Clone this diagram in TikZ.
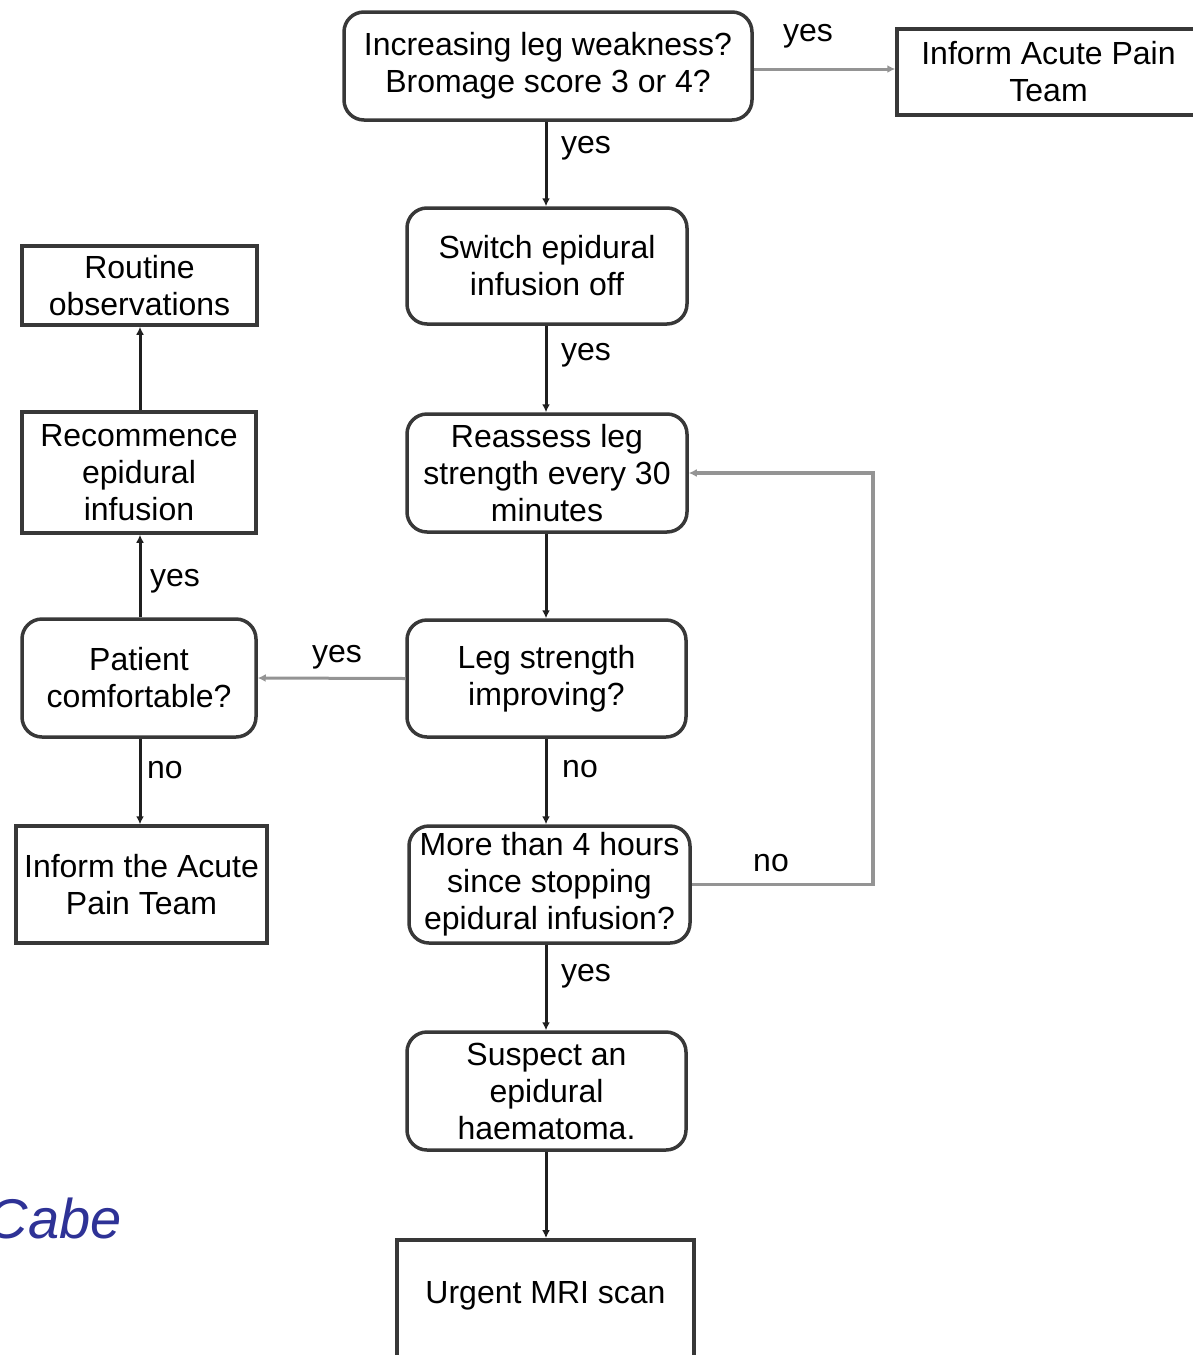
\documentclass[tikz,border=0pt]{standalone}
\usepackage{fontspec}
\setmainfont{Liberation Sans}
\usetikzlibrary{arrows.meta}
\definecolor{cabeblue}{RGB}{46,50,150}

\begin{document}
\begin{tikzpicture}[x=1pt, y=-1pt,
  every node/.style={font=\fontsize{32}{37}\selectfont, align=center},
  rbox/.style={draw=black!78, line width=3.5pt, rounded corners=20pt, inner sep=0pt},
  sbox/.style={draw=black!78, line width=3.5pt, inner sep=0pt},
  vline/.style={black!88, line width=3pt, -{Latex[length=8pt,width=8pt]}},
  hline/.style={black!42, line width=3pt, -{Latex[length=8pt,width=8pt]}}]
  \def\pw{1193} \def\ph{1355}

  \useasboundingbox (0,0) rectangle (\pw,\ph);
  \clip (0,0) rectangle (\pw,\ph);

  % Main column
  \node[rbox, minimum width=408, minimum height=108] (weak) at (548,66)
    {Increasing leg weakness?\\Bromage score 3 or 4?};
  \node[sbox, minimum width=303, minimum height=86] (informtop) at (1048.5,72)
    {Inform Acute Pain\\Team};
  \node[rbox, minimum width=280, minimum height=116] (switchoff) at (547,266)
    {Switch epidural\\infusion off};
  \node[rbox, minimum width=280, minimum height=118] (reassess) at (547,473)
    {Reassess leg\\strength every 30\\minutes};
  \node[rbox, minimum width=279, minimum height=117] (improving) at (546.5,678.5)
    {Leg strength\\improving?};
  \node[rbox, minimum width=281, minimum height=117] (fourhours) at (549.5,884.5)
    {More than 4 hours\\since stopping\\epidural infusion?};
  \node[rbox, minimum width=279, minimum height=118] (suspect) at (546.5,1091)
    {Suspect an\\epidural\\haematoma.};
  \node[sbox, anchor=north, minimum width=297, inner ysep=41, text height=23, text depth=40] (mri) at (545.5,1238)
    {Urgent MRI scan};

  % Left column
  \node[sbox, minimum width=235, minimum height=79] (routine) at (139.5,285.5)
    {Routine\\observations};
  \node[sbox, minimum width=234, minimum height=121] (recommence) at (139,472.5)
    {Recommence\\epidural\\infusion};
  \node[rbox, minimum width=234, minimum height=118] (comfortable) at (139,678)
    {Patient\\comfortable?};
  \node[sbox, minimum width=251, minimum height=117] (informleft) at (141.5,884.5)
    {Inform the Acute\\Pain Team};

  % Connectors
  \coordinate (midx) at (546,0);
  \coordinate (leftx) at (140,0);
  \draw[hline] (weak.east |- 0,69) -- (informtop.west |- 0,69);
  \draw[vline] (weak.south -| midx) -- (switchoff.north -| midx);
  \draw[vline] (switchoff.south -| midx) -- (reassess.north -| midx);
  \draw[vline] (reassess.south -| midx) -- (improving.north -| midx);
  \draw[hline] (improving.west) -- (comfortable.east);
  \draw[vline] (comfortable.north -| leftx) -- (recommence.south -| leftx);
  \draw[vline] (recommence.north -| leftx) -- (routine.south -| leftx);
  \draw[vline] (comfortable.south -| leftx) -- (informleft.north -| leftx);
  \draw[vline] (improving.south -| midx) -- (fourhours.north -| midx);
  \draw[vline] (fourhours.south -| midx) -- (suspect.north -| midx);
  \draw[vline] (suspect.south -| midx) -- (mri.north -| midx);
  \coordinate (loopx) at (873,0);
  \draw[hline, line width=3.5pt] (fourhours.east) -- (fourhours.east -| loopx)
    -- (reassess.east -| loopx) -- (reassess.east);

  % Labels
  \node at (808,36) {yes};
  \node at (586,148) {yes};
  \node at (586,355) {yes};
  \node at (337,657) {yes};
  \node at (175,581) {yes};
  \node at (165,770) {no};
  \node at (580,769) {no};
  \node at (771,863) {no};
  \node at (586,976) {yes};

  % Cut-off caption
  \node[anchor=base east, text=cabeblue, font=\fontsize{56}{60}\selectfont\itshape] (cabe) at (125,1238) {Cabe};
\end{tikzpicture}
\end{document}
